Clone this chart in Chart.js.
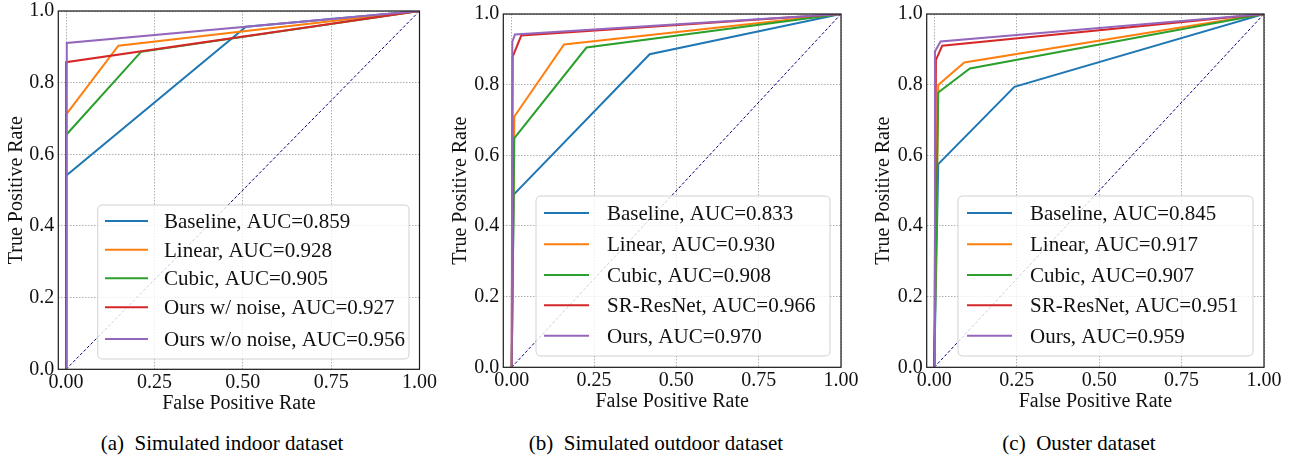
<!DOCTYPE html>
<html><head><meta charset="utf-8">
<script src="https://cdn.jsdelivr.net/npm/chart.js@4/dist/chart.umd.min.js"></script>
<style>
html,body{margin:0;padding:0;background:#fff;}
#wrap{position:relative;width:1295px;height:457px;overflow:hidden;background:#fff;}
canvas{position:absolute;left:0;top:0;}
.cap{position:absolute;top:430px;font-family:"Liberation Serif",serif;font-size:21px;white-space:pre;transform:translateX(-50%);line-height:26px;color:#000;}
</style></head><body>
<div id="wrap">
<canvas id="ca" width="1295" height="420"></canvas>
<canvas id="cb" width="1295" height="420"></canvas>
<canvas id="cc" width="1295" height="420"></canvas>
<div class="cap" style="left:222px">(a)  Simulated indoor dataset</div>
<div class="cap" style="left:656px">(b)  Simulated outdoor dataset</div>
<div class="cap" style="left:1079px">(c)  Ouster dataset</div>
</div>
<script>
// ---- data ----
const xTicks = [0, 0.25, 0.5, 0.75, 1.0];
const xTickLabels = ["0.00", "0.25", "0.50", "0.75", "1.00"];
const yTicks = [0, 0.2, 0.4, 0.6, 0.8, 1.0];
const yTickLabels = ["0.0", "0.2", "0.4", "0.6", "0.8", "1.0"];
const seriesColors = ["#1f77b4", "#ff7f0e", "#2ca02c", "#d62728", "#9467bd"];
const xAxisTitle = "False Positive Rate";
const yAxisTitle = "True Positive Rate";

const labelsA = ["Baseline, AUC=0.859", "Linear, AUC=0.928", "Cubic, AUC=0.905", "Ours w/ noise, AUC=0.927", "Ours w/o noise, AUC=0.956"];
const labelsB = ["Baseline, AUC=0.833", "Linear, AUC=0.930", "Cubic, AUC=0.908", "SR-ResNet, AUC=0.966", "Ours, AUC=0.970"];
const labelsC = ["Baseline, AUC=0.845", "Linear, AUC=0.917", "Cubic, AUC=0.907", "SR-ResNet, AUC=0.951", "Ours, AUC=0.959"];

const diagFpr = [0, 1];
const diagTpr = [0, 1];

// (a) Simulated indoor
const aBaselineFpr = [0, 0, 0.509, 1];
const aBaselineTpr = [0, 0.540, 0.956, 1];
const aLinearFpr = [0, 0, 0.148, 1];
const aLinearTpr = [0, 0.711, 0.903, 1];
const aCubicFpr = [0, 0, 0.212, 1];
const aCubicTpr = [0, 0.654, 0.886, 1];
const aNoiseFpr = [0, 0, 1];
const aNoiseTpr = [0, 0.857, 1];
const aCleanFpr = [0, 0.002, 1];
const aCleanTpr = [0, 0.911, 1];

// (b) Simulated outdoor
const bBaselineFpr = [0, 0.006, 0.419, 1];
const bBaselineTpr = [0, 0.489, 0.886, 1];
const bLinearFpr = [0, 0.008, 0.159, 1];
const bLinearTpr = [0, 0.710, 0.914, 1];
const bCubicFpr = [0, 0.008, 0.227, 1];
const bCubicTpr = [0, 0.649, 0.905, 1];
const bSrFpr = [0, 0.003, 0.029, 1];
const bSrTpr = [0, 0.879, 0.939, 1];
const bOursFpr = [0, 0.002, 0.010, 1];
const bOursTpr = [0, 0.922, 0.942, 1];

// (c) Ouster
const cBaselineFpr = [0, 0.012, 0.243, 1];
const cBaselineTpr = [0, 0.575, 0.794, 1];
const cLinearFpr = [0, 0.012, 0.091, 1];
const cLinearTpr = [0, 0.799, 0.863, 1];
const cCubicFpr = [0, 0.012, 0.108, 1];
const cCubicTpr = [0, 0.778, 0.846, 1];
const cSrFpr = [0, 0.005, 0.024, 1];
const cSrTpr = [0, 0.870, 0.910, 1];
const cOursFpr = [0, 0.002, 0.019, 1];
const cOursTpr = [0, 0.894, 0.922, 1];

// ---- rendering ----
const FONT = '"Liberation Serif", "Times New Roman", serif';
const zip = (xs, ys) => xs.map((x, i) => ({x: x, y: ys[i]}));

const frameAndLegend = {
  id: 'frameAndLegend',
  afterDatasetsDraw(chart, args, o) {
    const ctx = chart.ctx;
    ctx.save();
    const b = o.box, r = 5;
    ctx.beginPath();
    ctx.moveTo(b.x1 + r, b.y1);
    ctx.lineTo(b.x2 - r, b.y1); ctx.quadraticCurveTo(b.x2, b.y1, b.x2, b.y1 + r);
    ctx.lineTo(b.x2, b.y2 - r); ctx.quadraticCurveTo(b.x2, b.y2, b.x2 - r, b.y2);
    ctx.lineTo(b.x1 + r, b.y2); ctx.quadraticCurveTo(b.x1, b.y2, b.x1, b.y2 - r);
    ctx.lineTo(b.x1, b.y1 + r); ctx.quadraticCurveTo(b.x1, b.y1, b.x1 + r, b.y1);
    ctx.closePath();
    ctx.fillStyle = 'rgba(255,255,255,0.8)';
    ctx.fill();
    ctx.strokeStyle = 'rgba(204,204,204,0.9)';
    ctx.lineWidth = 1;
    ctx.stroke();
    const items = chart.data.datasets.filter(d => d.inLegend);
    items.forEach((d, i) => {
      const y = o.rows[i];
      ctx.setLineDash([]);
      ctx.strokeStyle = d.borderColor;
      ctx.lineWidth = d.borderWidth;
      ctx.beginPath();
      ctx.moveTo(o.lineX1, y); ctx.lineTo(o.lineX2, y);
      ctx.stroke();
      ctx.fillStyle = '#111';
      ctx.font = '21px ' + FONT;
      ctx.textBaseline = 'alphabetic';
      ctx.textAlign = 'left';
      ctx.fillText(d.label, o.textX, y + 7);
    });
    ctx.restore();
  },
  afterDraw(chart) {
    const ctx = chart.ctx, a = chart.chartArea;
    ctx.save();
    ctx.strokeStyle = '#1a1a1a';
    ctx.lineWidth = 1.2;
    ctx.setLineDash([]);
    ctx.strokeRect(a.left, a.top, a.right - a.left, a.bottom - a.top);
    ctx.restore();
  }
};

function makeChart(id, g, labels, series, leg) {
  const datasets = [{
    label: 'chance', inLegend: false,
    data: zip(diagFpr, diagTpr),
    borderColor: '#000080', borderWidth: 1, borderDash: [3, 2],
    showLine: true, pointRadius: 0, order: 10
  }];
  series.forEach((s, i) => {
    datasets.push({
      label: labels[i], inLegend: true,
      data: zip(s[0], s[1]),
      borderColor: seriesColors[i], borderWidth: 2,
      showLine: true, pointRadius: 0, order: 6 - i
    });
  });
  const W = 1295, H = 420;
  const padLeft = g.yTitleX - 14;
  return new Chart(document.getElementById(id), {
    type: 'scatter',
    data: {datasets},
    plugins: [frameAndLegend],
    options: {
      responsive: false, animation: false, devicePixelRatio: 1,
      layout: {padding: {left: padLeft, right: W - g.right, top: g.top, bottom: 0}},
      plugins: {legend: {display: false}, tooltip: {enabled: false}, frameAndLegend: leg},
      scales: {
        x: {
          type: 'linear', min: g.xmin, max: 1,
          afterBuildTicks: s => { s.ticks = xTicks.map(v => ({value: v})); },
          afterFit: s => { s.height = H - g.bottom; s.paddingLeft = 0; s.paddingRight = 0; },
          ticks: {callback: (v, i) => xTickLabels[i], font: {family: FONT, size: 20}, color: '#111', padding: 1, maxRotation: 0, autoSkip: false},
          grid: {color: 'rgba(120,120,120,0.75)', lineWidth: 0.8, drawTicks: false},
          border: {display: false, dash: [1.5, 1.5]},
          title: {display: true, text: xAxisTitle, font: {family: FONT, size: 20}, color: '#111', padding: {top: 0, bottom: H - 12 - g.xTitleY}}
        },
        y: {
          type: 'linear', min: 0, max: 1,
          afterBuildTicks: s => { s.ticks = yTicks.map(v => ({value: v})); },
          afterFit: s => { s.width = g.left - padLeft; s.paddingTop = 0; s.paddingBottom = 0; },
          ticks: {callback: (v, i) => yTickLabels[i], font: {family: FONT, size: 20}, color: '#111', padding: 4, autoSkip: false},
          grid: {color: 'rgba(120,120,120,0.75)', lineWidth: 0.8, drawTicks: false},
          border: {display: false, dash: [1.5, 1.5]},
          title: {display: true, text: yAxisTitle, font: {family: FONT, size: 20}, color: '#111', padding: {top: 2, bottom: 0}}
        }
      }
    }
  });
}

makeChart('ca',
  {left: 58.3, right: 419.5, top: 11, bottom: 369.3, xmin: -0.022, yTitleX: 17, xTitleY: 403.6},
  labelsA,
  [[aBaselineFpr, aBaselineTpr], [aLinearFpr, aLinearTpr], [aCubicFpr, aCubicTpr], [aNoiseFpr, aNoiseTpr], [aCleanFpr, aCleanTpr]],
  {box: {x1: 97.7, y1: 205, x2: 409, y2: 359}, rows: [221, 249.7, 278.3, 307.3, 339], lineX1: 105, lineX2: 148, textX: 164});

makeChart('cb',
  {left: 503.3, right: 841, top: 14, bottom: 367.3, xmin: -0.0255, yTitleX: 461, xTitleY: 402.2},
  labelsB,
  [[bBaselineFpr, bBaselineTpr], [bLinearFpr, bLinearTpr], [bCubicFpr, bCubicTpr], [bSrFpr, bSrTpr], [bOursFpr, bOursTpr]],
  {box: {x1: 536, y1: 196, x2: 830, y2: 356}, rows: [213, 244.3, 275, 305.3, 335.7], lineX1: 544, lineX2: 589, textX: 607});

makeChart('cc',
  {left: 926.7, right: 1264, top: 14, bottom: 367.3, xmin: -0.023, yTitleX: 883.7, xTitleY: 402.2},
  labelsC,
  [[cBaselineFpr, cBaselineTpr], [cLinearFpr, cLinearTpr], [cCubicFpr, cCubicTpr], [cSrFpr, cSrTpr], [cOursFpr, cOursTpr]],
  {box: {x1: 958, y1: 196, x2: 1253, y2: 356}, rows: [213, 244.3, 275, 305.3, 335.7], lineX1: 967, lineX2: 1012, textX: 1030});
</script>
</body></html>
